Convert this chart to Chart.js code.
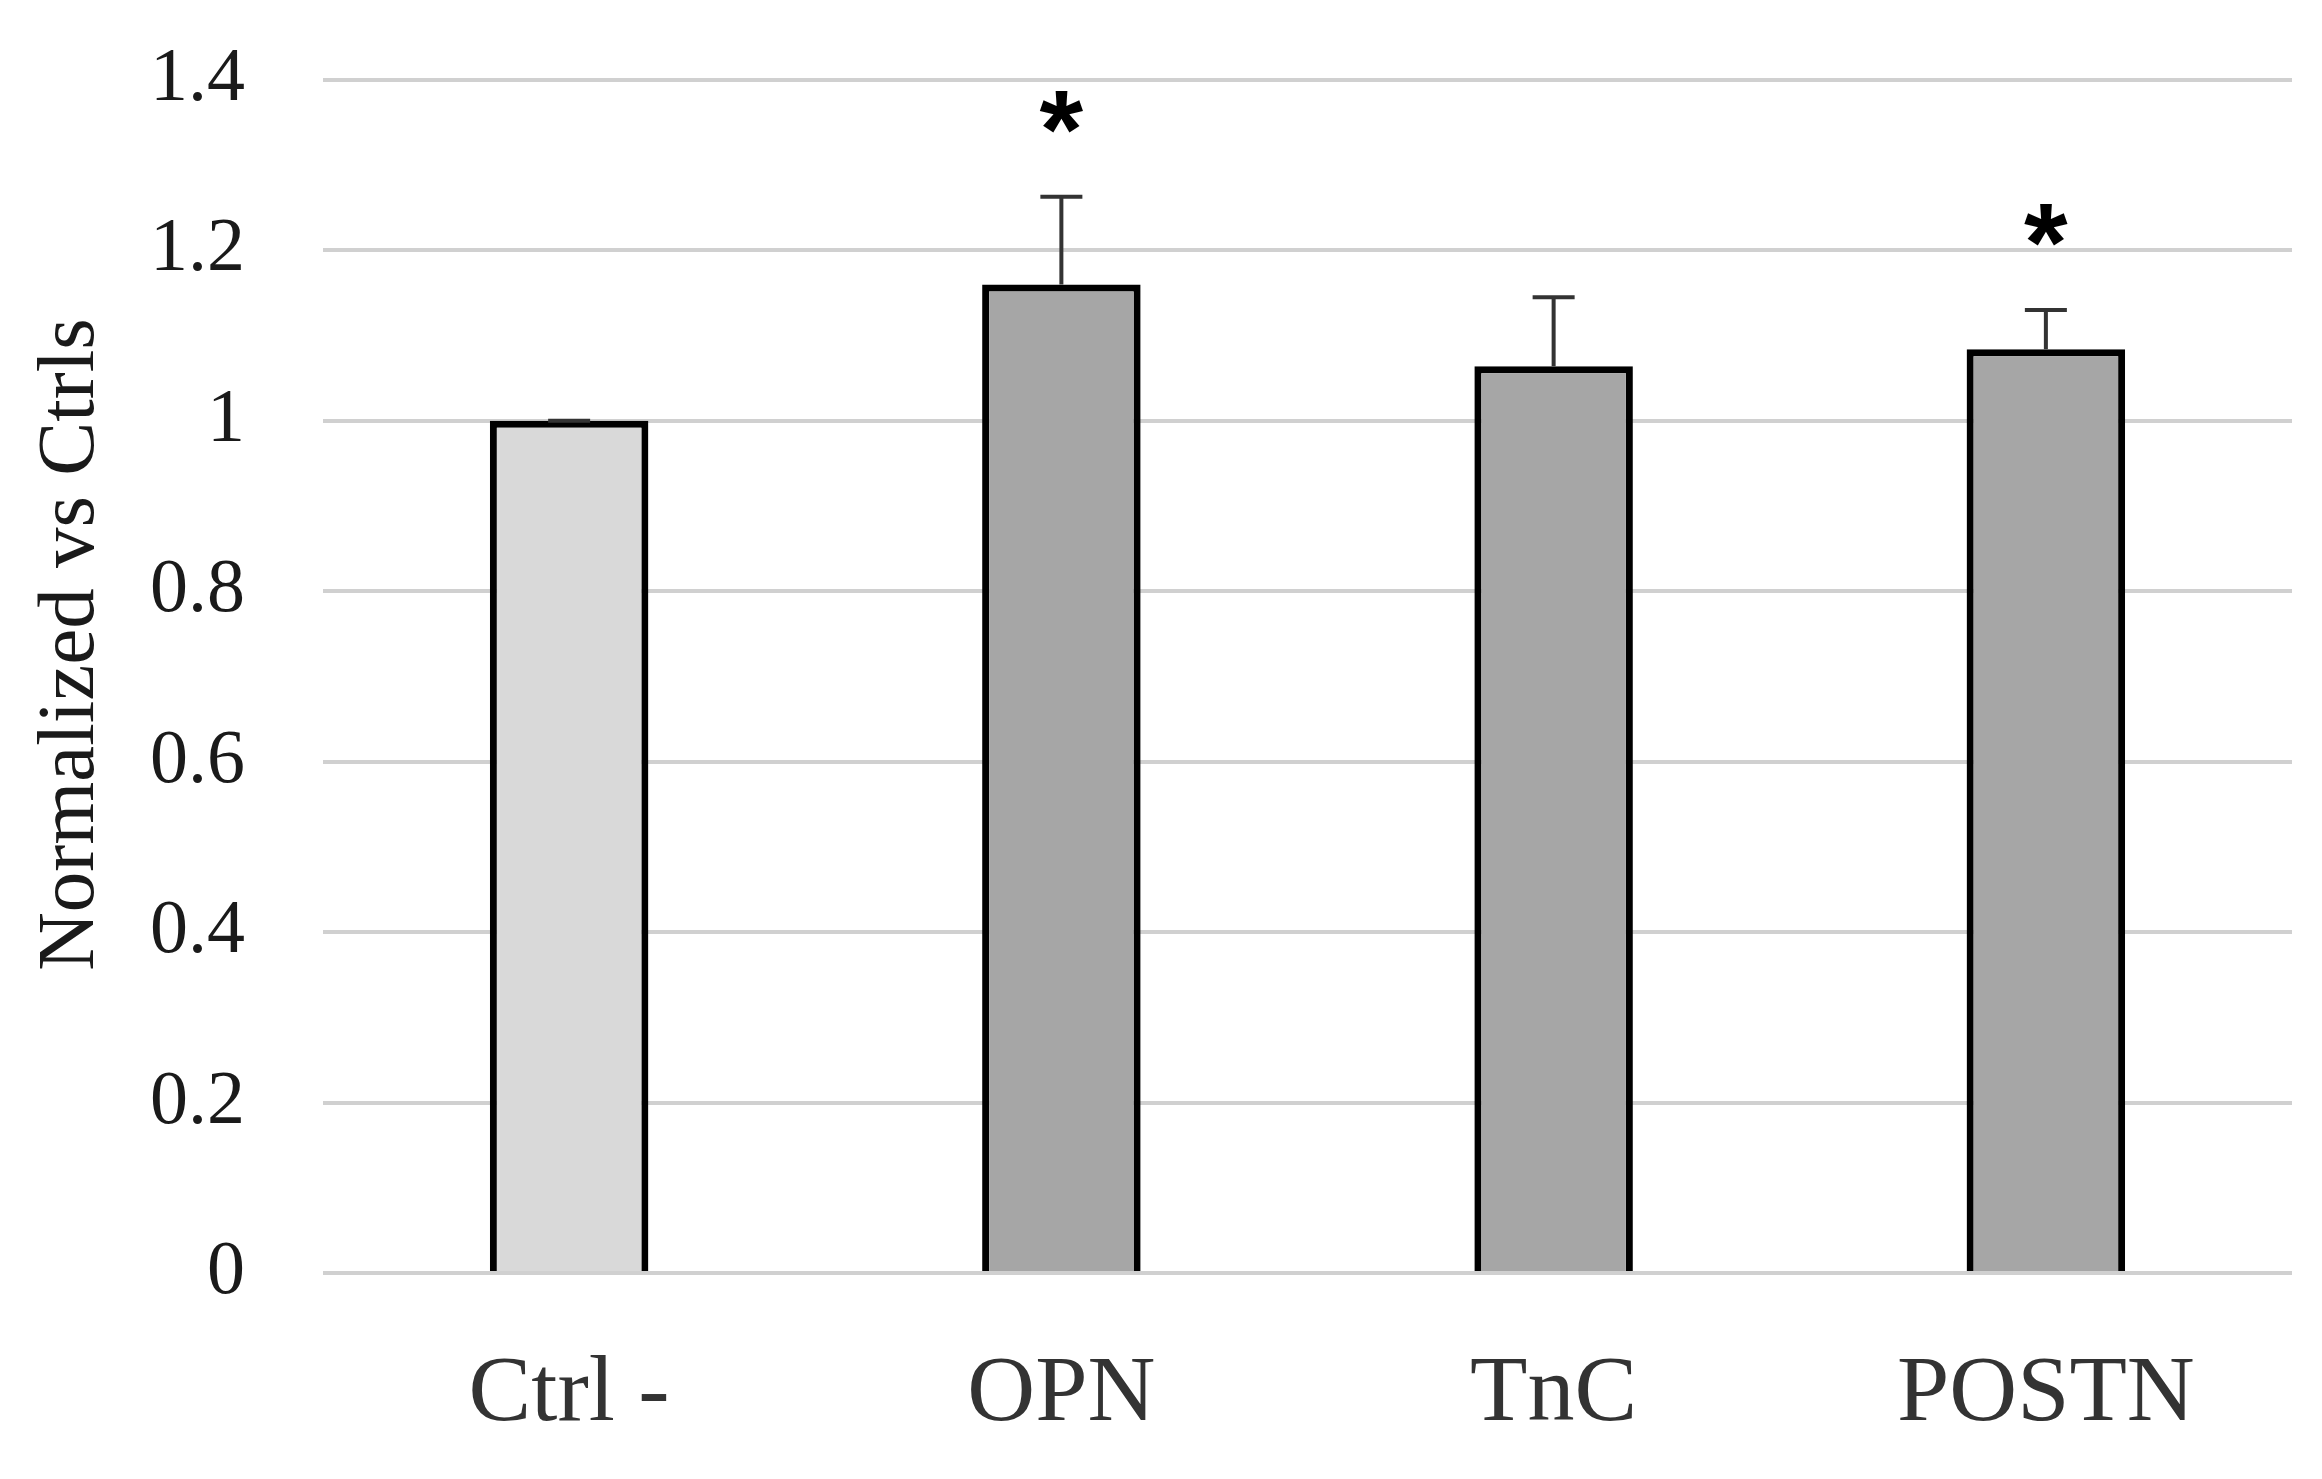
<!DOCTYPE html>
<html><head><meta charset="utf-8">
<script src="https://cdn.jsdelivr.net/npm/chart.js@4"></script>
<style>html,body{margin:0;padding:0;background:#fff}#wrap{width:2322px;height:1479px}</style>
</head><body><div id="wrap"><canvas id="c" width="2322" height="1479"></canvas></div>
<script>
const categories = ["Ctrl -", "OPN", "TnC", "POSTN"];
const values = [1.0, 1.16, 1.064, 1.084];
const errors = [0, 0.103, 0.081, 0.046];
const significance = ["", "*", "", "*"];
const barColors = ["#d9d9d9", "#a6a6a6", "#a6a6a6", "#a6a6a6"];
const yTicks = [0, 0.2, 0.4, 0.6, 0.8, 1, 1.2, 1.4];
const yTitle = "Normalized vs Ctrls";

const serif = "'Liberation Serif', 'DejaVu Serif', serif";

const errPlugin = {
  id: 'errbars',
  afterDatasetsDraw(chart) {
    const ctx = chart.ctx;
    const meta = chart.getDatasetMeta(0);
    const y = chart.scales.y;
    ctx.save();
    meta.data.forEach((bar, i) => {
      const x = bar.x;
      const yTop = y.getPixelForValue(values[i] + errors[i]);
      const yBase = y.getPixelForValue(values[i]);
      ctx.strokeStyle = '#333333';
      ctx.lineWidth = 4;
      ctx.beginPath();
      ctx.moveTo(x, yBase);
      ctx.lineTo(x, yTop);
      ctx.moveTo(x - 21, yTop);
      ctx.lineTo(x + 21, yTop);
      ctx.stroke();
      if (significance[i]) {
        ctx.fillStyle = '#000';
        ctx.font = "bold 112px 'Liberation Sans', sans-serif";
        ctx.textAlign = 'center';
        ctx.textBaseline = 'alphabetic';
        ctx.fillText(significance[i], x, yTop - 29);
      }
    });
    ctx.restore();
  },
  afterDraw(chart) {
    const ctx = chart.ctx;
    const a = chart.chartArea;
    ctx.save();
    ctx.translate(72, (a.top + a.bottom) / 2 - 32);
    ctx.rotate(-Math.PI / 2);
    ctx.fillStyle = '#1a1a1a';
    ctx.font = "81px " + serif;
    ctx.textAlign = 'center';
    ctx.textBaseline = 'middle';
    ctx.fillText(yTitle, 0, 0);
    ctx.restore();
  }
};

new Chart(document.getElementById('c'), {
  type: 'bar',
  data: {
    labels: categories,
    datasets: [{
      data: values,
      backgroundColor: barColors,
      borderColor: '#000000',
      borderWidth: 7,
      borderSkipped: 'bottom',
      categoryPercentage: 1.0,
      barPercentage: 0.322
    }]
  },
  options: {
    responsive: false,
    animation: false,
    devicePixelRatio: 1,
    layout: { padding: { top: 80, right: 30, left: 0, bottom: 0 } },
    plugins: { legend: { display: false }, tooltip: { enabled: false } },
    scales: {
      x: {
        grid: { display: false, drawTicks: false },
        border: { display: false },
        ticks: { color: '#333333', font: { family: serif, size: 94 }, padding: 66 },
        afterFit(s) { s.height = 206; }
      },
      y: {
        min: 0, max: 1.4,
        afterBuildTicks(s) { s.ticks = yTicks.map(v => ({ value: v })); },
        grid: { color: '#d0d0d0', lineWidth: 4, drawTicks: false },
        border: { display: false },
        ticks: {
          color: '#1a1a1a', font: { family: serif, size: 76 }, padding: 78,
          callback: v => String(v)
        },
        afterFit(s) { s.width = 323; s.paddingTop = 0; s.paddingBottom = 0; }
      }
    }
  },
  plugins: [errPlugin]
});
</script></body></html>
